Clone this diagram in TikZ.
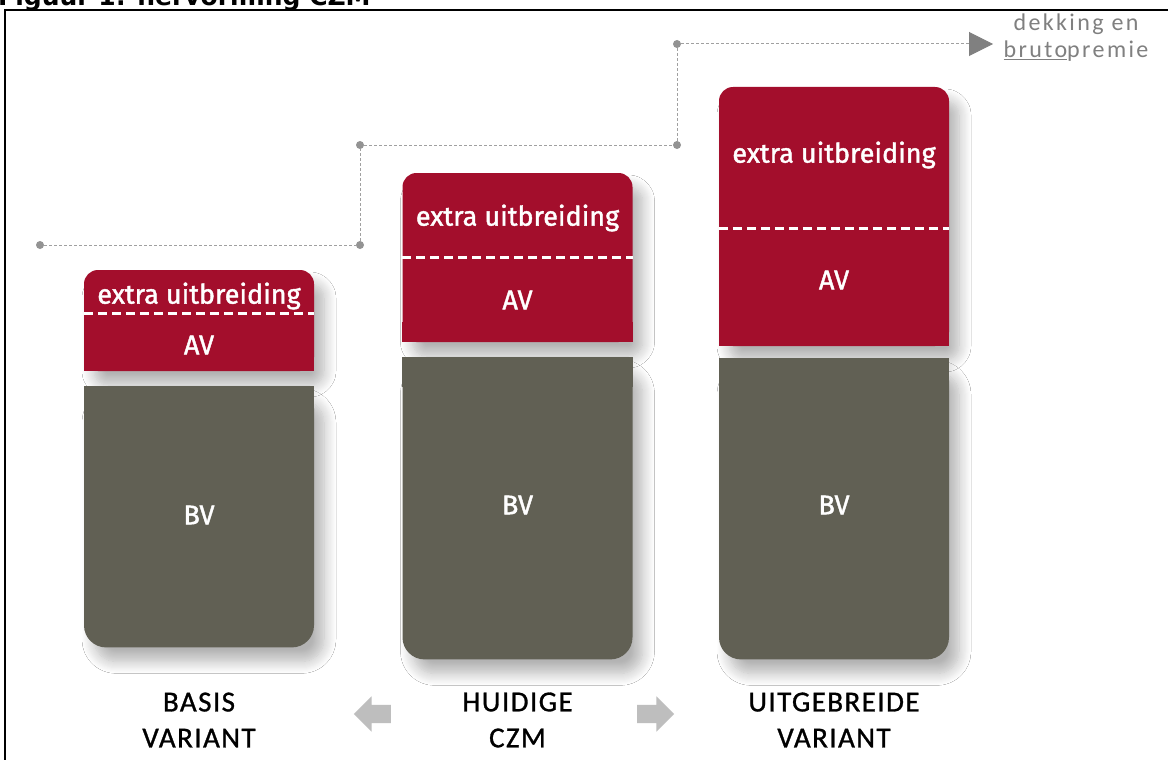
\documentclass[tikz,border=0pt]{standalone}
\usepackage{fontspec}
\setmainfont{Carlito}
\newfontfamily\boxfont[FakeBold=1.5]{Fira Sans}
\newfontfamily\lblfont[LetterSpace=5,FakeBold=1]{Carlito}
\newfontfamily\notefont[LetterSpace=10]{Carlito}
\newfontfamily\titlefont{DejaVu Sans}
\usetikzlibrary{positioning,shadows.blur,shapes.arrows,arrows.meta}

\definecolor{avred}{RGB}{163,14,44}
\definecolor{bvgray}{RGB}{97,96,84}
\definecolor{stepgray}{RGB}{160,160,160}
\definecolor{notegray}{RGB}{128,128,128}
\definecolor{arrowgray}{RGB}{190,190,190}

\tikzset{
  softshadow/.style={blur shadow={shadow xshift=10pt, shadow yshift=-14pt,
      shadow blur radius=12pt, shadow blur steps=12, shadow opacity=30}},
  redpart/.style={fill=avred, rounded corners=14pt, inner sep=0pt,
      minimum width=230pt, softshadow},
  graypart/.style={fill=bvgray, rounded corners=22pt, inner sep=0pt,
      minimum width=230pt, softshadow},
  boxtext/.style={text=white, font=\boxfont\fontsize{27}{27}\selectfont},
  divider/.style={white, line width=3pt, dash pattern=on 9pt off 5pt},
  stepdot/.style={circle, fill=notegray!85, inner sep=0pt, minimum size=8pt},
  stepline/.style={stepgray, line width=1pt, dash pattern=on 3pt off 2pt},
  varlabel/.style={align=center, text=black,
      font=\lblfont\fontsize{29}{36}\selectfont},
  blockarrow/.style={single arrow, fill=arrowgray, inner sep=0pt,
      minimum height=37pt, single arrow head extend=8.5pt,
      single arrow tip angle=90}
}

\begin{document}
\begin{tikzpicture}[x=1pt, y=-1pt]
  \fill[white] (0,0) rectangle (1168,760);
  \useasboundingbox (0,0) rectangle (1168,760);

  \node[anchor=base west, inner sep=0pt] (title) at (-2,6)
    {\titlefont\bfseries\fontsize{25}{25}\selectfont Figuur 1: hervorming CZM};
  \draw[line width=2pt] (5,760) -- (5,10) -- (1168,10);

  % basis variant
  \node[redpart, minimum height=101pt] (basisav) at (199,320.5) {};
  \fill[avred] ([yshift=20pt]basisav.south west) rectangle (basisav.south east);
  \node[graypart, minimum height=261pt, below=15pt of basisav] (basisbv) {};
  \fill[bvgray] (basisbv.north west) rectangle ([yshift=-30pt]basisbv.north east);
  \draw[divider] (basisav.west |- 0,313) -- (basisav.east |- 0,313);
  \node[boxtext] (basisext) at (199,296) {extra uitbreiding};
  \node[boxtext] (basisavlbl) at (199,345) {AV};
  \node[boxtext] (basisbvlbl) at (199,515) {BV};

  % huidige czm
  \node[redpart, minimum height=169pt] (huidigav) at (517.5,257.5) {};
  \fill[avred] ([yshift=20pt]huidigav.south west) rectangle (huidigav.south east);
  \node[graypart, minimum height=302pt, below=15pt of huidigav] (huidigbv) {};
  \fill[bvgray] (huidigbv.north west) rectangle ([yshift=-30pt]huidigbv.north east);
  \draw[divider] (huidigav.west |- 0,257) -- (huidigav.east |- 0,257);
  \node[boxtext] (huidigext) at (517.5,218) {extra uitbreiding};
  \node[boxtext] (huidigavlbl) at (517.5,300) {AV};
  \node[boxtext] (huidigbvlbl) at (517.5,505) {BV};

  % uitgebreide variant
  \node[redpart, minimum height=259pt] (uitgebrav) at (834,216.5) {};
  \fill[avred] ([yshift=20pt]uitgebrav.south west) rectangle (uitgebrav.south east);
  \node[graypart, minimum height=301pt, below=12pt of uitgebrav] (uitgebrbv) {};
  \fill[bvgray] (uitgebrbv.north west) rectangle ([yshift=-30pt]uitgebrbv.north east);
  \draw[divider] (uitgebrav.west |- 0,228) -- (uitgebrav.east |- 0,228);
  \node[boxtext] (uitgebrext) at (834,155) {extra uitbreiding};
  \node[boxtext] (uitgebravlbl) at (834,280) {AV};
  \node[boxtext] (uitgebrbvlbl) at (834,505) {BV};

  % trap van dekking en premie
  \node[stepdot] (s1) at (40,245) {};
  \node[stepdot] (s2) at (360,245) {};
  \node[stepdot] (s3) at (360,145) {};
  \node[stepdot] (s4) at (677,145) {};
  \node[stepdot] (s5) at (677,44) {};
  \coordinate (arrowend) at (993,44);
  \draw[stepline] (s1) -- (s2) -- (s3) -- (s4) -- (s5);
  \draw[stepline, -{Triangle[length=24pt, width=24pt, color=notegray]}] (s5) -- (arrowend);
  \node[align=center, text=notegray, font=\notefont\fontsize{24}{27}\selectfont]
    (dekking) at (1076,38) {dekking en\\\underline{bruto}premie};

  % labels onder
  \node[varlabel] (basislbl) at (199,720) {BASIS\\VARIANT};
  \node[varlabel] (huidiglbl) at (517.5,720) {HUIDIGE\\CZM};
  \node[varlabel] (uitgebrlbl) at (834,720) {UITGEBREIDE\\VARIANT};
  \node[blockarrow, shape border rotate=180] (leftarrow) at (377,714) {\rule{0pt}{18pt}};
  \node[blockarrow] (rightarrow) at (651,714) {\rule{0pt}{18pt}};
\end{tikzpicture}
\end{document}
